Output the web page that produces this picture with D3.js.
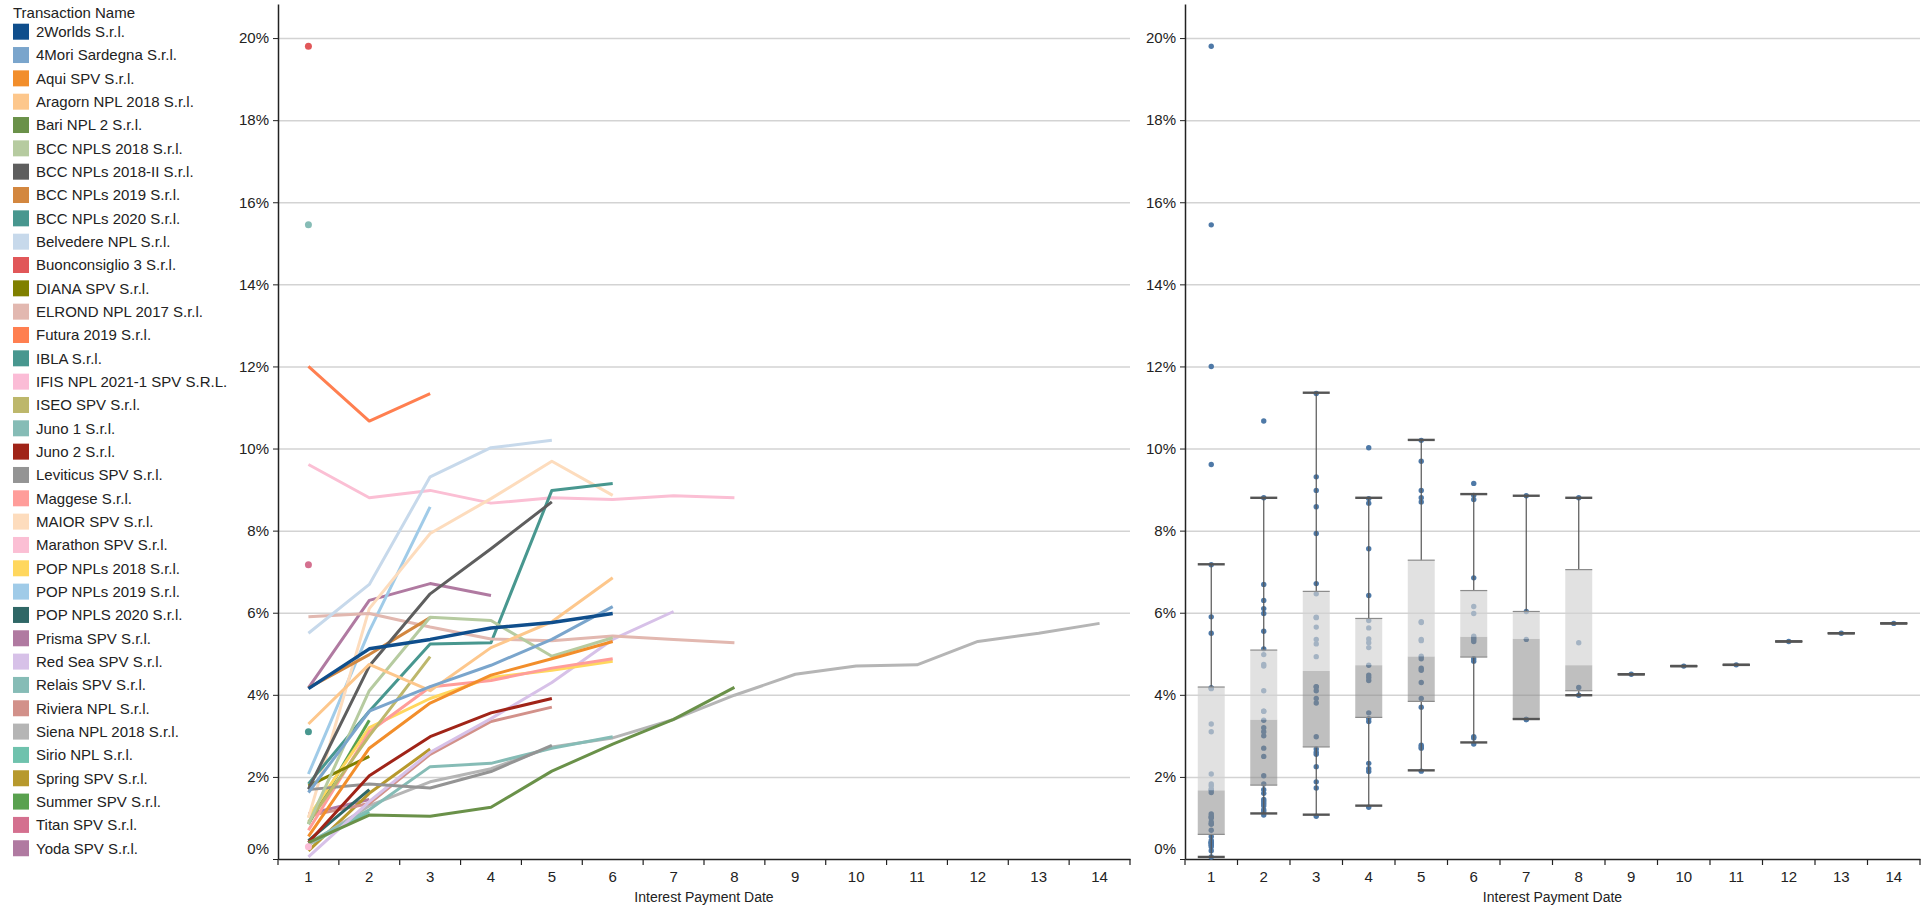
<!DOCTYPE html>
<html lang="en">
<head>
<meta charset="utf-8">
<title>Interest Payment Date</title>
<script src="https://cdn.jsdelivr.net/npm/d3@7"></script>
<style>
  body { margin: 0; background: #fff; }
  svg { font-family: "Liberation Sans", Arial, sans-serif; }
  .tick text { fill: #222; }
  .domain { stroke: #222; stroke-width: 1.5; }
  .tick line { stroke: #222; }
  .grid line { stroke: #d3d3d3; stroke-width: 1.5; }
  .grid .domain { display: none; }
</style>
</head>
<body>
<script>
// interest payment dates (x categories)
const dates = [1, 2, 3, 4, 5, 6, 7, 8, 9, 10, 11, 12, 13, 14];
const yTicks = [0, 2, 4, 6, 8, 10, 12, 14, 16, 18, 20];

const names = ["2Worlds S.r.l.", "4Mori Sardegna S.r.l.", "Aqui SPV S.r.l.", "Aragorn NPL 2018 S.r.l.",
  "Bari NPL 2 S.r.l.", "BCC NPLS 2018 S.r.l.", "BCC NPLs 2018-II S.r.l.", "BCC NPLs 2019 S.r.l.",
  "BCC NPLs 2020 S.r.l.", "Belvedere NPL S.r.l.", "Buonconsiglio 3 S.r.l.", "DIANA SPV S.r.l.",
  "ELROND NPL 2017 S.r.l.", "Futura 2019 S.r.l.", "IBLA S.r.l.", "IFIS NPL 2021-1 SPV S.R.L.",
  "ISEO SPV S.r.l.", "Juno 1 S.r.l.", "Juno 2 S.r.l.", "Leviticus SPV S.r.l.", "Maggese S.r.l.",
  "MAIOR SPV S.r.l.", "Marathon SPV S.r.l.", "POP NPLs 2018 S.r.l.", "POP NPLs 2019 S.r.l.",
  "POP NPLS 2020 S.r.l.", "Prisma SPV S.r.l.", "Red Sea SPV S.r.l.", "Relais SPV S.r.l.",
  "Riviera NPL S.r.l.", "Siena NPL 2018 S.r.l.", "Sirio NPL S.r.l.", "Spring SPV S.r.l.",
  "Summer SPV S.r.l.", "Titan SPV S.r.l.", "Yoda SPV S.r.l."];

const colors = ["#0f4e8c", "#7aa5cc", "#f28e2b", "#fdc78c", "#6a9149", "#b6cba0", "#5e5e5e", "#d3873f",
  "#48978f", "#c7d9eb", "#e15759", "#808000", "#e2b8b0", "#ff7f50", "#48978f", "#fbbcd6",
  "#bdb76b", "#86bcb6", "#a02418", "#949494", "#ff9d9a", "#fddcbd", "#fbbfd4", "#ffd75e",
  "#a0cbe8", "#2f6766", "#b07aa1", "#d7c1e8", "#86bcb6", "#d2918a", "#b5b5b5", "#6fc2ad",
  "#b7992d", "#59a14f", "#d4708f", "#b07aa1"];

// cumulative rate (%) per payment date, starting at date 1
const rates = [
  [4.15, 5.12, 5.35, 5.63, 5.76, 5.98],
  [1.62, 3.6, 4.2, 4.72, 5.35, 6.15],
  [0.55, 2.7, 3.8, 4.48, 4.88, 5.3],
  [3.29, 4.74, 4.1, 5.15, 5.78, 6.85],
  [0.4, 1.07, 1.04, 1.26, 2.14, 2.8, 3.4, 4.18],
  [0.85, 4.1, 5.89, 5.81, 4.94, 5.39],
  [1.7, 4.7, 6.46, 7.56, 8.7],
  [4.17, 4.98, 5.88],
  [3.1],
  [5.5, 6.69, 9.31, 10.02, 10.2],
  [19.8],
  [1.78, 2.5],
  [5.9, 5.98, 5.65, 5.36, 5.32, 5.43, 5.35, 5.27],
  [12.0, 10.67, 11.34],
  [1.83, 3.6, 5.24, 5.27, 8.98, 9.15],
  [0.3],
  [0.9, 3.0, 4.93],
  [15.45],
  [0.4, 2.03, 2.98, 3.56, 3.91],
  [1.69, 1.83, 1.73, 2.13, 2.77],
  [0.7, 3.1, 4.19, 4.35, 4.65, 4.88],
  [1.0, 6.1, 7.93, 8.78, 9.69, 8.86],
  [9.61, 8.8, 8.98, 8.67, 8.8, 8.76, 8.85, 8.8],
  [1.02, 3.2, 3.91, 4.42, 4.6, 4.82],
  [2.07, 5.55, 8.58],
  [0.45, 1.69],
  [4.17, 6.3, 6.71, 6.42],
  [0.05, 1.4, 2.6, 3.42, 4.3, 5.35, 6.03],
  [0.4, 1.2, 2.25, 2.33, 2.7, 2.98],
  [1.05, 1.35, 2.55, 3.35, 3.7],
  [0.35, 1.3, 1.88, 2.2, 2.73, 2.95, 3.4, 3.99, 4.5, 4.7, 4.73, 5.3, 5.5, 5.74],
  [0.35, 1.15],
  [0.2, 1.6, 2.68],
  [0.85, 3.38],
  [7.17],
  [1.1, 1.45]
];

// box plot summary per payment date (%)
const boxQ1 =       [0.6, 1.8, 2.73, 3.45, 3.84, 4.92, 3.41, 4.1, 4.5, 4.7, 4.73, 5.3, 5.5, 5.74];
const boxMedian =   [1.67, 3.39, 4.58, 4.72, 4.93, 5.41, 5.36, 4.72, 4.5, 4.7, 4.73, 5.3, 5.5, 5.74];
const boxQ3 =       [4.19, 5.09, 6.52, 5.86, 7.28, 6.54, 6.03, 7.05, 4.5, 4.7, 4.73, 5.3, 5.5, 5.74];
const whiskerLow =  [0.05, 1.11, 1.08, 1.3, 2.16, 2.84, 3.41, 3.99, 4.5, 4.7, 4.73, 5.3, 5.5, 5.74];
const whiskerHigh = [7.18, 8.8, 11.36, 8.8, 10.21, 8.89, 8.85, 8.8, 4.5, 4.7, 4.73, 5.3, 5.5, 5.74];

var W = 1921, H = 909;
var yTop = 4, yBottom = 859;

var svg = d3.select("body").append("svg")
  .attr("width", W)
  .attr("height", H);

var y = d3.scaleLinear().domain([0, 20.83]).range([yBottom, yTop]);

var series = names.map(function(n, i) {
  return { name: n, color: colors[i], values: rates[i].map(function(v, j) { return { date: dates[j], v: v }; }) };
});

// ---------- legend ----------
var legend = svg.append("g").attr("transform", "translate(13,0)");
legend.append("text")
  .attr("x", 0).attr("y", 17.5)
  .style("font-size", "15px").attr("fill", "#222")
  .text("Transaction Name");

var item = legend.selectAll(".item")
  .data(series)
  .enter().append("g")
  .attr("class", "item")
  .attr("transform", function(d, i) { return "translate(0," + (31.7 + i * 23.33) + ")"; });
item.append("rect")
  .attr("x", 0).attr("y", -8)
  .attr("width", 16).attr("height", 16)
  .attr("fill", function(d) { return d.color; });
item.append("text")
  .attr("x", 23).attr("dy", "0.35em")
  .style("font-size", "15px").attr("fill", "#222")
  .text(function(d) { return d.name; });

// ---------- shared axis helpers ----------
function drawFrame(g, x, titleText) {
  var r = x.range();

  g.append("g").attr("class", "grid")
    .attr("transform", "translate(" + r[0] + ",0)")
    .call(d3.axisLeft(y).tickValues(yTicks.slice(1)).tickSize(-(r[1] - r[0])).tickFormat(""));

  var ya = g.append("g")
    .attr("transform", "translate(" + r[0] + ",0)")
    .call(d3.axisLeft(y).tickValues(yTicks).tickSize(5).tickPadding(4).tickSizeOuter(0)
      .tickFormat(function(d) { return d + "%"; }));
  ya.selectAll(".tick text").style("font-size", "15px")
    .filter(function(d) { return d === 0; }).attr("dy", "-0.35em");

  var xa = g.append("g")
    .attr("transform", "translate(0," + yBottom + ")")
    .call(d3.axisBottom(x).tickSize(0).tickPadding(12).tickSizeOuter(0));
  xa.selectAll(".tick text").style("font-size", "15px");

  // tick marks on the band edges
  var edges = dates.map(function(d) { return x(d); }).concat([r[1]]);
  xa.selectAll(".edge")
    .data(edges)
    .enter().append("line")
    .attr("class", "edge")
    .attr("x1", function(d) { return d; }).attr("x2", function(d) { return d; })
    .attr("y1", 0).attr("y2", 6)
    .attr("stroke", "#222").attr("stroke-width", 1.2);

  g.append("text")
    .attr("x", (r[0] + r[1]) / 2).attr("y", 902)
    .attr("text-anchor", "middle")
    .style("font-size", "14px").attr("fill", "#222")
    .text(titleText);
}

// ---------- left: lines per transaction ----------
var xL = d3.scaleBand().domain(dates).range([278, 1130]).padding(0);
var left = svg.append("g");
drawFrame(left, xL, "Interest Payment Date");

var line = d3.line()
  .x(function(d) { return xL(d.date) + xL.bandwidth() / 2; })
  .y(function(d) { return y(d.v); });

var drawOrder = series.slice().reverse();

left.selectAll(".series")
  .data(drawOrder.filter(function(s) { return s.values.length > 1; }))
  .enter().append("path")
  .attr("class", "series")
  .attr("fill", "none")
  .attr("stroke", function(d) { return d.color; })
  .attr("stroke-width", function(d) { return d.name === "2Worlds S.r.l." ? 3.5 : 3; })
  .attr("stroke-linejoin", "round")
  .attr("d", function(d) { return line(d.values); });

left.selectAll(".single")
  .data(drawOrder.filter(function(s) { return s.values.length === 1; }))
  .enter().append("circle")
  .attr("class", "single")
  .attr("cx", function(d) { return xL(d.values[0].date) + xL.bandwidth() / 2; })
  .attr("cy", function(d) { return y(d.values[0].v); })
  .attr("r", 3.5)
  .attr("fill", function(d) { return d.color; });

// ---------- right: box plot per payment date ----------
var xR = d3.scaleBand().domain(dates).range([1185, 1920]).padding(0);
var right = svg.append("g");
drawFrame(right, xR, "Interest Payment Date");

var cx = function(d) { return xR(d) + xR.bandwidth() / 2; };
var boxW = 27;

var pts = [];
series.forEach(function(s) { s.values.forEach(function(p) { pts.push(p); }); });

right.selectAll(".pt")
  .data(pts)
  .enter().append("circle")
  .attr("class", "pt")
  .attr("cx", function(d) { return cx(d.date); })
  .attr("cy", function(d) { return y(d.v); })
  .attr("r", 2.7)
  .attr("fill", "#4e79a7");

var boxes = dates.map(function(d, i) {
  return { date: d, q1: boxQ1[i], med: boxMedian[i], q3: boxQ3[i], lo: whiskerLow[i], hi: whiskerHigh[i] };
});

var bx = right.selectAll(".box")
  .data(boxes)
  .enter().append("g")
  .attr("class", "box");

bx.append("line")
  .attr("x1", function(d) { return cx(d.date); }).attr("x2", function(d) { return cx(d.date); })
  .attr("y1", function(d) { return y(d.hi); }).attr("y2", function(d) { return y(d.q3); })
  .attr("stroke", "#555").attr("stroke-width", 1.2);
bx.append("line")
  .attr("x1", function(d) { return cx(d.date); }).attr("x2", function(d) { return cx(d.date); })
  .attr("y1", function(d) { return y(d.q1); }).attr("y2", function(d) { return y(d.lo); })
  .attr("stroke", "#555").attr("stroke-width", 1.2);

// upper half (median to Q3)
bx.append("rect")
  .attr("x", function(d) { return cx(d.date) - boxW / 2; })
  .attr("width", boxW)
  .attr("y", function(d) { return y(d.q3); })
  .attr("height", function(d) { return y(d.med) - y(d.q3); })
  .attr("fill", "#d2d2d2").attr("fill-opacity", 0.66);
// lower half (Q1 to median)
bx.append("rect")
  .attr("x", function(d) { return cx(d.date) - boxW / 2; })
  .attr("width", boxW)
  .attr("y", function(d) { return y(d.med); })
  .attr("height", function(d) { return y(d.q1) - y(d.med); })
  .attr("fill", "#8a8a8a").attr("fill-opacity", 0.55);

// box edges
["q1", "q3"].forEach(function(k) {
  bx.append("line")
    .attr("x1", function(d) { return cx(d.date) - boxW / 2; })
    .attr("x2", function(d) { return cx(d.date) + boxW / 2; })
    .attr("y1", function(d) { return y(d[k]); }).attr("y2", function(d) { return y(d[k]); })
    .attr("stroke", "#8c8c8c").attr("stroke-width", 1.2);
});

// whisker caps
["lo", "hi"].forEach(function(k) {
  bx.append("line")
    .attr("x1", function(d) { return cx(d.date) - boxW / 2; })
    .attr("x2", function(d) { return cx(d.date) + boxW / 2; })
    .attr("y1", function(d) { return y(d[k]); }).attr("y2", function(d) { return y(d[k]); })
    .attr("stroke", "#555").attr("stroke-width", 2.4);
});
</script>
</body>
</html>
